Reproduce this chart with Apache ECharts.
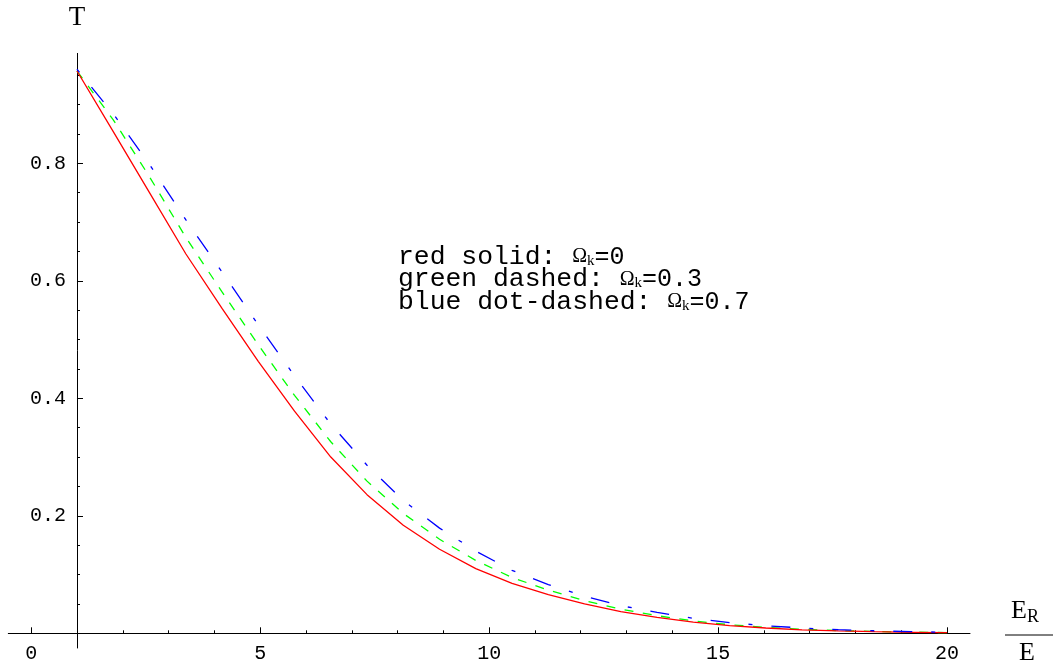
<!DOCTYPE html>
<html><head><meta charset="utf-8">
<script src="https://cdn.jsdelivr.net/npm/echarts@6/dist/echarts.min.js"></script>
<style>html,body{margin:0;padding:0;background:#fff}#c{width:1055px;height:670px}</style>
</head><body><div id="c"></div>
<script>
// ---- data ----
const xValues = [1, 1.792, 2.583, 3.375, 4.167, 4.958, 5.75, 6.542, 7.333, 8.125, 8.917, 9.708, 10.5,
  11.292, 12.083, 12.875, 13.667, 14.458, 15.25, 16.042, 16.833, 17.625, 18.417, 19.208, 20];
const redSolid = [0.957, 0.854, 0.750, 0.646, 0.553, 0.463, 0.378, 0.300, 0.236, 0.184, 0.143, 0.110, 0.085,
  0.066, 0.050, 0.037, 0.027, 0.019, 0.013, 0.009, 0.006, 0.004, 0.0027, 0.0017, 0.0010];
const greenDashed = [0.957, 0.874, 0.777, 0.674, 0.581, 0.491, 0.405, 0.326, 0.259, 0.204, 0.160, 0.124, 0.095,
  0.0735, 0.0555, 0.041, 0.030, 0.0212, 0.0146, 0.0102, 0.0069, 0.0046, 0.0031, 0.0020, 0.0012];
const blueDotDashed = [0.960, 0.884, 0.798, 0.704, 0.615, 0.525, 0.438, 0.356, 0.286, 0.226, 0.179, 0.140, 0.107,
  0.083, 0.063, 0.047, 0.0355, 0.0255, 0.018, 0.013, 0.009, 0.0062, 0.0043, 0.0028, 0.0018];
const xTickLabels = [0, 5, 10, 15, 20];
const xMinorTicks = [0, 1, 2, 3, 4, 5, 6, 7, 8, 9, 10, 11, 12, 13, 14, 15, 16, 17, 18, 19, 20];
const yTickLabels = [0.2, 0.4, 0.6, 0.8];
const yMinorTicks = [0.05, 0.1, 0.15, 0.2, 0.25, 0.3, 0.35, 0.4, 0.45, 0.5, 0.55, 0.6, 0.65, 0.7, 0.75, 0.8, 0.85, 0.9, 0.95];
const legendLines = [
  ['red solid: ', '0'],
  ['green dashed: ', '0.3'],
  ['blue dot-dashed: ', '0.7']
];
const yAxisCrossX = 1;

// ---- chart ----
const MONO = '"Liberation Mono", "DejaVu Sans Mono", monospace';
const SERIF = '"Liberation Serif", "DejaVu Serif", serif';
const GRID = { left: 8.3, right: 85, top: 53.4, bottom: 22, outerBoundsMode: 'none', containLabel: false };

function pairs(ys) { return xValues.map((x, i) => [x, ys[i]]); }

const legendText = legendLines.map(l => `{t|${l[0]}}{o|Ω}{k|k}{v|=${l[1]}}`).join('\n');

const xBase = {
  type: 'value', min: -0.5, max: 20.5, splitLine: { show: false }
};
const yBase = {
  type: 'value', min: -0.025, max: 0.987, splitLine: { show: false }, position: 'left'
};

const chart = echarts.init(document.getElementById('c'));
const option = {
  animation: false,
  backgroundColor: '#fff',
  grid: GRID,
  xAxis: [
    Object.assign({}, xBase, {
      axisLine: { show: true, onZero: true, onZeroAxisIndex: 0, lineStyle: { color: '#000', width: 1 } },
      axisTick: { show: true, inside: true, length: 3, customValues: xMinorTicks, lineStyle: { color: '#000' } },
      axisLabel: { show: true, customValues: xTickLabels, margin: -4, color: '#000', fontFamily: MONO, fontSize: 20 }
    }),
    Object.assign({}, xBase, {
      position: 'bottom',
      axisLine: { show: false, onZero: true, onZeroAxisIndex: 0 },
      axisTick: { show: true, inside: true, length: 6, customValues: xTickLabels, lineStyle: { color: '#000' } },
      axisLabel: { show: false }
    })
  ],
  yAxis: [
    Object.assign({}, yBase, {
      name: 'T', nameLocation: 'end', nameGap: 22,
      nameTextStyle: { fontFamily: SERIF, fontSize: 27, color: '#000', align: 'center' },
      axisLine: { show: true, onZero: false, lineStyle: { color: '#000', width: 1 } },
      axisTick: { show: true, inside: true, length: 6, customValues: yTickLabels, lineStyle: { color: '#000' } },
      axisLabel: { show: true, customValues: yTickLabels, margin: 11, color: '#000', fontFamily: MONO, fontSize: 20,
        formatter: v => v.toFixed(1) }
    }),
    Object.assign({}, yBase, {
      axisLine: { show: false, onZero: false },
      axisTick: { show: true, inside: true, length: 3, customValues: yMinorTicks, lineStyle: { color: '#000' } },
      axisLabel: { show: false }
    })
  ],
  series: [
    { type: 'line', data: pairs(redSolid), showSymbol: false, symbol: 'none', z: 3,
      lineStyle: { color: '#ff0000', width: 1.3 } },
    { type: 'line', data: pairs(greenDashed), showSymbol: false, symbol: 'none', z: 2,
      lineStyle: { color: '#00ff00', width: 1.3, type: [9, 9.5] } },
    { type: 'line', data: pairs(blueDotDashed), showSymbol: false, symbol: 'none', z: 4,
      lineStyle: { color: '#0000ff', width: 1.3, type: [4, 19, 19, 19] } }
  ],
  graphic: [
    { type: 'text', left: 398, top: 244, z: 10,
      style: { text: legendText, fill: '#000',
        rich: {
          t: { fontFamily: MONO, fontSize: 26.4, lineHeight: 22.5, fill: '#000' },
          o: { fontFamily: SERIF, fontSize: 20, lineHeight: 22.5, fill: '#000' },
          k: { fontFamily: SERIF, fontSize: 15, lineHeight: 13, verticalAlign: 'bottom', fill: '#000' },
          v: { fontFamily: MONO, fontSize: 25, lineHeight: 22.5, fill: '#000' }
        } } },
    { type: 'text', left: 1011, top: 598, z: 10,
      style: { text: '{e|E}{r|R}', fill: '#000',
        rich: {
          e: { fontFamily: SERIF, fontSize: 26, lineHeight: 30, fill: '#000' },
          r: { fontFamily: SERIF, fontSize: 18, lineHeight: 15, verticalAlign: 'bottom', fill: '#000' }
        } } },
    { type: 'line', z: 10, shape: { x1: 1005, y1: 635, x2: 1053, y2: 635 }, style: { stroke: '#000', lineWidth: 1 } },
    { type: 'text', left: 1019, top: 640, z: 10,
      style: { text: 'E', fill: '#000', font: '26px ' + SERIF } }
  ]
};
chart.setOption(option);
// place the vertical axis where it crosses the horizontal axis at x = yAxisCrossX
const crossPx = chart.convertToPixel({ xAxisIndex: 0 }, yAxisCrossX);
const gridRect = chart.getModel().getComponent('grid', 0).coordinateSystem.getRect();
const off = -(crossPx - gridRect.x);
chart.setOption({ yAxis: [{ offset: off }, { offset: off }] });
</script>
</body></html>
